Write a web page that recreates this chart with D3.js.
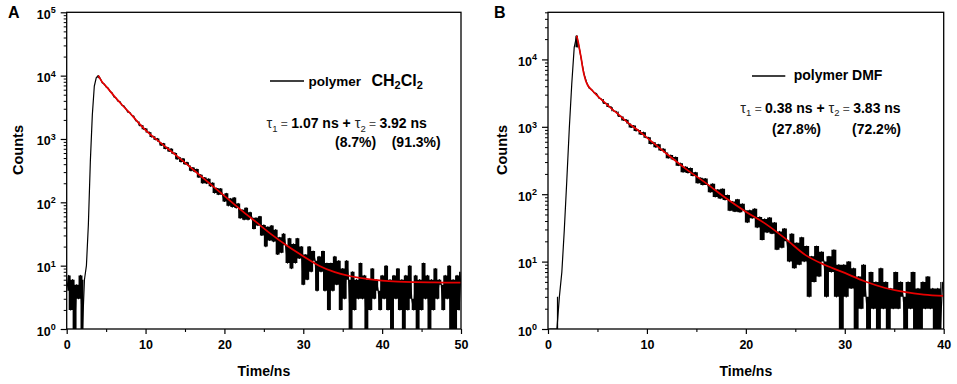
<!DOCTYPE html>
<html><head><meta charset="utf-8">
<script src="https://cdn.jsdelivr.net/npm/d3@7"></script>
<style>
body{margin:0;background:#fff;}
svg{display:block;font-family:"Liberation Sans",Arial,Helvetica,sans-serif;}
</style></head><body>
<svg id="chart" width="957" height="384"></svg>
<script>
// ---------- Panel A (polymer in CH2Cl2) ----------
const decayA_t0 = 0, decayA_dt = 0.25;           // channel time grid, ns
const decayA_counts = [
  4,7,2,6,0,5,3,7,0,6,
  10,45,450,2400,6800,9300,10000,
  9082,7747,7405,6638,6371,5636,5349,4613,4442,3952,3886,3402,3327,3002,2650,2631,2346,2301,1942,1896,
  1620,1643,1430,1461,1268,1282,1073,1104,970,1018,898,790,854,697,740,637,703,586,603,479,
  515,434,492,399,429,380,314,353,303,335,247,273,200,246,198,235,179,203,140,168,132,165,132,
  103,139,88,115,84,119,81,96,56,76,53,82,53,70,57,38,57,43,60,30,
  44,20,41,25,43,24,37,15,28,16,32,21,11,27,9,22,11,27,13,20,
  5,15,6,20,8,17,12,4,14,8,17,4,11,2,11,4,14,5,12,2,9,3,12,6,
  0,8,2,6,3,11,3,7,0,6,2,9,3,6,4,2,7,3,10,2,6,0,7,3,9,2,6,1,7,2,
  10,3,2,7,0,6,2,11,3,7,1,6,2,9,3,6,5,2,7,3,10,1,6,0,7,2,8
];
const fitA_time   = [4,4.5,5,6,7,8,9,10,12,14,16,18,20,22,24,26,28,30,32,34,36,38,40,42,44,46,48,50];
const fitA_counts = [10000,7940,6760,4790,3470,2570,1860,1380,851,537,331,204,126,77.6,49,30.9,20.4,14.1,10.0,7.9,6.8,6.2,5.8,5.6,5.5,5.45,5.4,5.4];
const xTicksA = [0,10,20,30,40,50];
const xMinorA = [5,15,25,35,45];
const yDecadesA = [0,1,2,3,4,5];
const legendA = "polymer";
const solventA = ["CH","2","Cl","2"];
const tauA = ["1.07 ns", "3.92 ns"];
const pctA = ["(8.7%)", "(91.3%)"];

// ---------- Panel B (polymer in DMF) ----------
const decayB_t0 = 0.15, decayB_dt = 0.25;
const decayB_counts = [
  0,0,0,0,3,7,30,160,930,4270,15100,22400,
  15056,9442,6013,4590,3766,3581,3212,3117,2666,2581,2223,2235,1970,1970,1700,1690,1424,1428,1245,1277,
  1115,980,1045,865,898,770,832,689,700,557,588,496,550,446,473,415,343,381,326,356,265,289,212,256,
  206,245,187,211,146,175,137,171,137,107,143,91,117,86,120,82,97,57,78,55,84,54,72,58,
  38,58,44,61,32,46,21,43,27,45,26,38,15,28,16,31,20,10,26,8,19,9,23,10,
  17,3,12,5,17,6,14,10,3,12,7,15,3,9,0,9,
  3,10,4,8,0,6,2,9,3,0,7,2,5,1,8,2,5,0,4,2,7,2,5,3,0,5,2,7,1,4,0,5,2,6,2,4,0,4,1,5
];
const fitB_time   = [2.9,3.06,3.2,3.35,3.5,3.65,3.8,4.0,4.3,4.6,5.0,5.75,6.5,7,8,9,10,12,14,16,18,20,22,24,26,28,30,32,34,36,38,40];
const fitB_counts = [22400,17800,13800,10500,7590,5890,4900,4170,3670,3310,2880,2290,1820,1580,1175,912,692,398,234,145,87,55,36.3,21.9,12.6,8.9,6.8,5.1,4.1,3.55,3.24,3.1];
const xTicksB = [0,10,20,30,40];
const xMinorB = [5,15,25,35];
const yDecadesB = [0,1,2,3,4];
const legendB = "polymer DMF";
const tauB = ["0.38 ns", "3.83 ns"];
const pctB = ["(27.8%)", "(72.2%)"];

const svg = d3.select("#chart");
const FIT_COLOR = "#e60000";

function drawPanel(p) {
  const x = d3.scaleLinear().domain(p.xDomain).range([p.left, p.right]);
  const y = d3.scaleLog().domain(p.yDomain).range([p.bottom, p.top]).clamp(true);
  const yc = v => y(Math.max(v, 0.5));
  const g = svg.append("g");

  const clipId = "clip" + p.id;
  svg.append("clipPath").attr("id", clipId).append("rect")
    .attr("x", p.left).attr("y", p.top).attr("width", p.right - p.left).attr("height", p.bottom - p.top);

  // data: channel-to-channel noise spread filled (dense TCSPC trace) where the trace
  // zig-zags; monotonic runs (rise, clean decay) are left to the plain trace.
  const c = p.counts;
  const inRun = i => {
    const a = c[i - 1], b = c[i], d = c[i + 1], e = c[i + 2];
    if (a === undefined || e === undefined) return false;
    const s0 = Math.sign(b - a), s1 = Math.sign(d - b), s2 = Math.sign(e - d);
    return s1 !== 0 && s0 === s1 && s1 === s2;
  };
  const pairs = d3.pairs(c).map((d, i) => ({ i, lo: Math.min(d[0], d[1]), hi: Math.max(d[0], d[1]), run: inRun(i) }));
  const spread = d3.area().curve(d3.curveStep)
    .defined(d => !d.run)
    .x(d => x(p.t0 + (d.i + 0.5) * p.dt))
    .y0(d => yc(d.lo)).y1(d => yc(d.hi));
  g.append("path").datum(pairs)
    .attr("clip-path", `url(#${clipId})`)
    .attr("d", spread).attr("fill", "#000").attr("stroke", "none");
  const dataLine = d3.line()
    .x((d, i) => x(p.t0 + i * p.dt))
    .y(d => yc(d));
  g.append("path").datum(c)
    .attr("clip-path", `url(#${clipId})`)
    .attr("d", dataLine).attr("fill", "none").attr("stroke", "#000").attr("stroke-width", 1.2)
    .attr("stroke-linejoin", "round");

  // fit
  const fitPts = p.fitT.map((t, i) => [t, p.fitC[i]]);
  const fitLine = d3.line().curve(d3.curveMonotoneX).x(d => x(d[0])).y(d => y(d[1]));
  g.append("path").datum(fitPts)
    .attr("clip-path", `url(#${clipId})`)
    .attr("d", fitLine).attr("fill", "none").attr("stroke", FIT_COLOR).attr("stroke-width", 1.7);

  // x axis
  const xAx = g.append("g").attr("transform", `translate(0,${p.bottom})`)
    .call(d3.axisBottom(x).tickValues(p.xTicks).tickSize(5).tickPadding(6).tickFormat(d3.format("d")));
  xAx.select(".domain").remove();
  xAx.selectAll("text").attr("font-size", 12.5).attr("font-weight", "bold").attr("fill", "#000")
    .attr("font-family", "Liberation Sans, Arial, sans-serif");
  xAx.selectAll("line").attr("stroke-width", 1.2);
  const xMin = g.append("g").attr("transform", `translate(0,${p.bottom})`)
    .call(d3.axisBottom(x).tickValues(p.xMinor).tickSize(3).tickFormat(""));
  xMin.select(".domain").remove();
  xMin.selectAll("line").attr("stroke-width", 1.1);

  // y axis
  const decVals = p.yDec.map(k => Math.pow(10, k));
  const yAx = g.append("g").attr("transform", `translate(${p.left},0)`)
    .call(d3.axisLeft(y).tickValues(decVals).tickSize(6).tickFormat(""));
  yAx.select(".domain").remove();
  yAx.selectAll("line").attr("stroke-width", 1.2);
  const minorVals = [];
  p.yDec.forEach(k => { for (let m = 2; m <= 9; m++) { const v = m * Math.pow(10, k); if (v <= p.yDomain[1]) minorVals.push(v); } });
  const yMin = g.append("g").attr("transform", `translate(${p.left},0)`)
    .call(d3.axisLeft(y).tickValues(minorVals).tickSize(3).tickFormat(""));
  yMin.select(".domain").remove();
  yMin.selectAll("line").attr("stroke-width", 1);

  const yLab = g.append("g");
  p.yDec.forEach(k => {
    const t = yLab.append("text").attr("x", p.left - 11).attr("y", y(Math.pow(10, k)) + 6.5)
      .attr("text-anchor", "end").attr("font-weight", "bold").attr("font-size", 12.5);
    t.append("tspan").text("10");
    t.append("tspan").attr("font-size", 9).attr("dy", -5.5).text(String(k));
  });

  // frame
  g.append("rect").attr("x", p.left).attr("y", p.top)
    .attr("width", p.right - p.left).attr("height", p.bottom - p.top)
    .attr("fill", "none").attr("stroke", "#000").attr("stroke-width", 1.3);

  // axis titles
  g.append("text").attr("transform", `translate(${p.yTitleX},150) rotate(-90)`)
    .attr("text-anchor", "middle").attr("font-weight", "bold").attr("font-size", 14.5).text("Counts");
  g.append("text").attr("x", (p.left + p.right) / 2).attr("y", 375.5)
    .attr("text-anchor", "middle").attr("font-weight", "bold").attr("font-size", 14).text("Time/ns");

  // panel letter
  g.append("text").attr("x", p.letterX).attr("y", 17.5).attr("font-weight", "bold")
    .attr("font-size", 16).text(p.letter);

  // legend
  const L = p.legend;
  g.append("line").attr("x1", L.lx1).attr("x2", L.lx2).attr("y1", L.ly).attr("y2", L.ly)
    .attr("stroke", "#000").attr("stroke-width", 1.5);
  const lt = g.append("text").attr("x", L.tx).attr("y", L.ty).attr("font-weight", "bold")
    .attr("font-size", L.fs).style("white-space", "pre");
  lt.append("tspan").text(L.label);
  if (L.solvent) {
    lt.append("tspan").attr("x", L.solvX).attr("font-size", 16).text(L.solvent[0]);
    lt.append("tspan").attr("font-size", 11).attr("dy", 3.5).text(L.solvent[1]);
    lt.append("tspan").attr("font-size", 16).attr("dy", -3.5).text(L.solvent[2]);
    lt.append("tspan").attr("font-size", 11).attr("dy", 3.5).text(L.solvent[3]);
  }

  // lifetimes
  const tt = g.append("text").attr("x", L.tauX).attr("y", L.tauY).attr("font-size", 14)
    .style("white-space", "pre");
  [0, 1].forEach(i => {
    tt.append("tspan").attr("font-weight", "normal").attr("font-size", 14.5).attr("fill", "#222")
      .text("τ");
    tt.append("tspan").attr("font-weight", "normal").attr("font-size", 9.5).attr("fill", "#222")
      .attr("dy", 3.5).text(String(i + 1));
    tt.append("tspan").attr("font-weight", "normal").attr("font-size", 12).attr("fill", "#555")
      .attr("dy", -3.5).text(" = ");
    tt.append("tspan").attr("font-weight", "bold").attr("fill", "#000")
      .text(p.tau[i] + (i === 0 ? " + " : ""));
  });
  p.pct.forEach((s, i) => {
    g.append("text").attr("x", L.pctX[i]).attr("y", L.pctY).attr("font-weight", "bold")
      .attr("font-size", 14).text(s);
  });
}

drawPanel({
  id: "A", letter: "A", letterX: 8,
  left: 66.7, right: 461, top: 12.3, bottom: 329,
  xDomain: [0, 50], yDomain: [1, 1e5],
  t0: decayA_t0, dt: decayA_dt, counts: decayA_counts,
  fitT: fitA_time, fitC: fitA_counts,
  xTicks: xTicksA, xMinor: xMinorA, yDec: yDecadesA,
  yTitleX: 23,
  tau: tauA, pct: pctA,
  legend: { lx1: 270, lx2: 304, ly: 81, tx: 308.5, ty: 85.5, fs: 13.5, label: legendA,
            solvent: solventA, solvX: 371.5,
            tauX: 266.5, tauY: 128, pctX: [335, 391.7], pctY: 146.5 }
});

drawPanel({
  id: "B", letter: "B", letterX: 494,
  left: 548, right: 943.7, top: 12.3, bottom: 329,
  xDomain: [0, 40], yDomain: [1, 5e4],
  t0: decayB_t0, dt: decayB_dt, counts: decayB_counts,
  fitT: fitB_time, fitC: fitB_counts,
  xTicks: xTicksB, xMinor: xMinorB, yDec: yDecadesB,
  yTitleX: 506.5,
  tau: tauB, pct: pctB,
  legend: { lx1: 752, lx2: 785.3, ly: 76, tx: 793.7, ty: 80, fs: 14, label: legendB,
            solvent: null,
            tauX: 740.3, tauY: 112.5, pctX: [772, 852], pctY: 134 }
});
</script>
</body></html>
